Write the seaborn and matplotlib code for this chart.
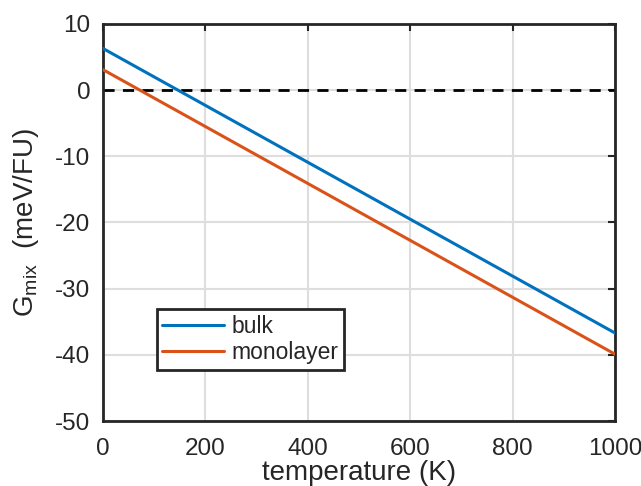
import numpy as np
import pandas as pd
import matplotlib
matplotlib.use("Agg")
import matplotlib.pyplot as plt
import seaborn as sns

# data (straight lines, end points)
temperature = [0, 1000]
bulk = [6.3, -36.7]
monolayer = [3.1, -39.9]

df = pd.DataFrame({
    "temperature": temperature * 2,
    "G": bulk + monolayer,
    "kind": ["bulk"] * 2 + ["monolayer"] * 2,
})

sns.set_style("white")
plt.rcParams["font.family"] = ["Liberation Sans", "DejaVu Sans"]
plt.rcParams["mathtext.fontset"] = "custom"
plt.rcParams["mathtext.rm"] = "Liberation Sans"
plt.rcParams["mathtext.it"] = "Liberation Sans:italic"
plt.rcParams["axes.unicode_minus"] = False

fig = plt.figure(figsize=(6.41, 4.86), dpi=100)
ax = fig.add_axes([103 / 641, 1 - 421 / 486, 512 / 641, 397 / 486])

ax.axhline(0, color="black", linestyle=(0, (4, 3)), linewidth=2, zorder=2)
sns.lineplot(data=df, x="temperature", y="G", hue="kind",
             palette=["#0072BD", "#D95319"], linewidth=2.2, ax=ax, zorder=3)

ax.set_xlim(0, 1000)
ax.set_ylim(-50, 10)
ax.set_xticks(range(0, 1001, 200))
ax.set_yticks(range(-50, 11, 10))
ax.grid(True, color="#dedede", linewidth=1.5)
ax.set_axisbelow(True)
for s in ax.spines.values():
    s.set_linewidth(2)
    s.set_color("#262626")
ax.tick_params(direction="in", length=5, width=1.5, top=True, right=True,
               labelsize=17.5, colors="#262626")
ax.tick_params(axis="x", pad=12)
ax.tick_params(axis="y", pad=9)
for lab in ax.get_xticklabels() + ax.get_yticklabels():
    lab.set_color("#262626")

ax.set_xlabel("temperature (K)", fontsize=20, labelpad=0)
ax.set_ylabel(r"G$_{\rm mix}$  (meV/FU)", fontsize=20, labelpad=10)

leg = ax.legend(title=None, loc="lower left", bbox_to_anchor=(0.105, 0.128),
                fontsize=16.5, frameon=True, fancybox=False, borderpad=0.25,
                handlelength=2.7, handletextpad=0.3, labelspacing=0.15,
                borderaxespad=0)
leg.get_frame().set_edgecolor("#262626")
leg.get_frame().set_linewidth(2)
leg.get_frame().set_alpha(1)

fig.savefig("out.png", dpi=100)
